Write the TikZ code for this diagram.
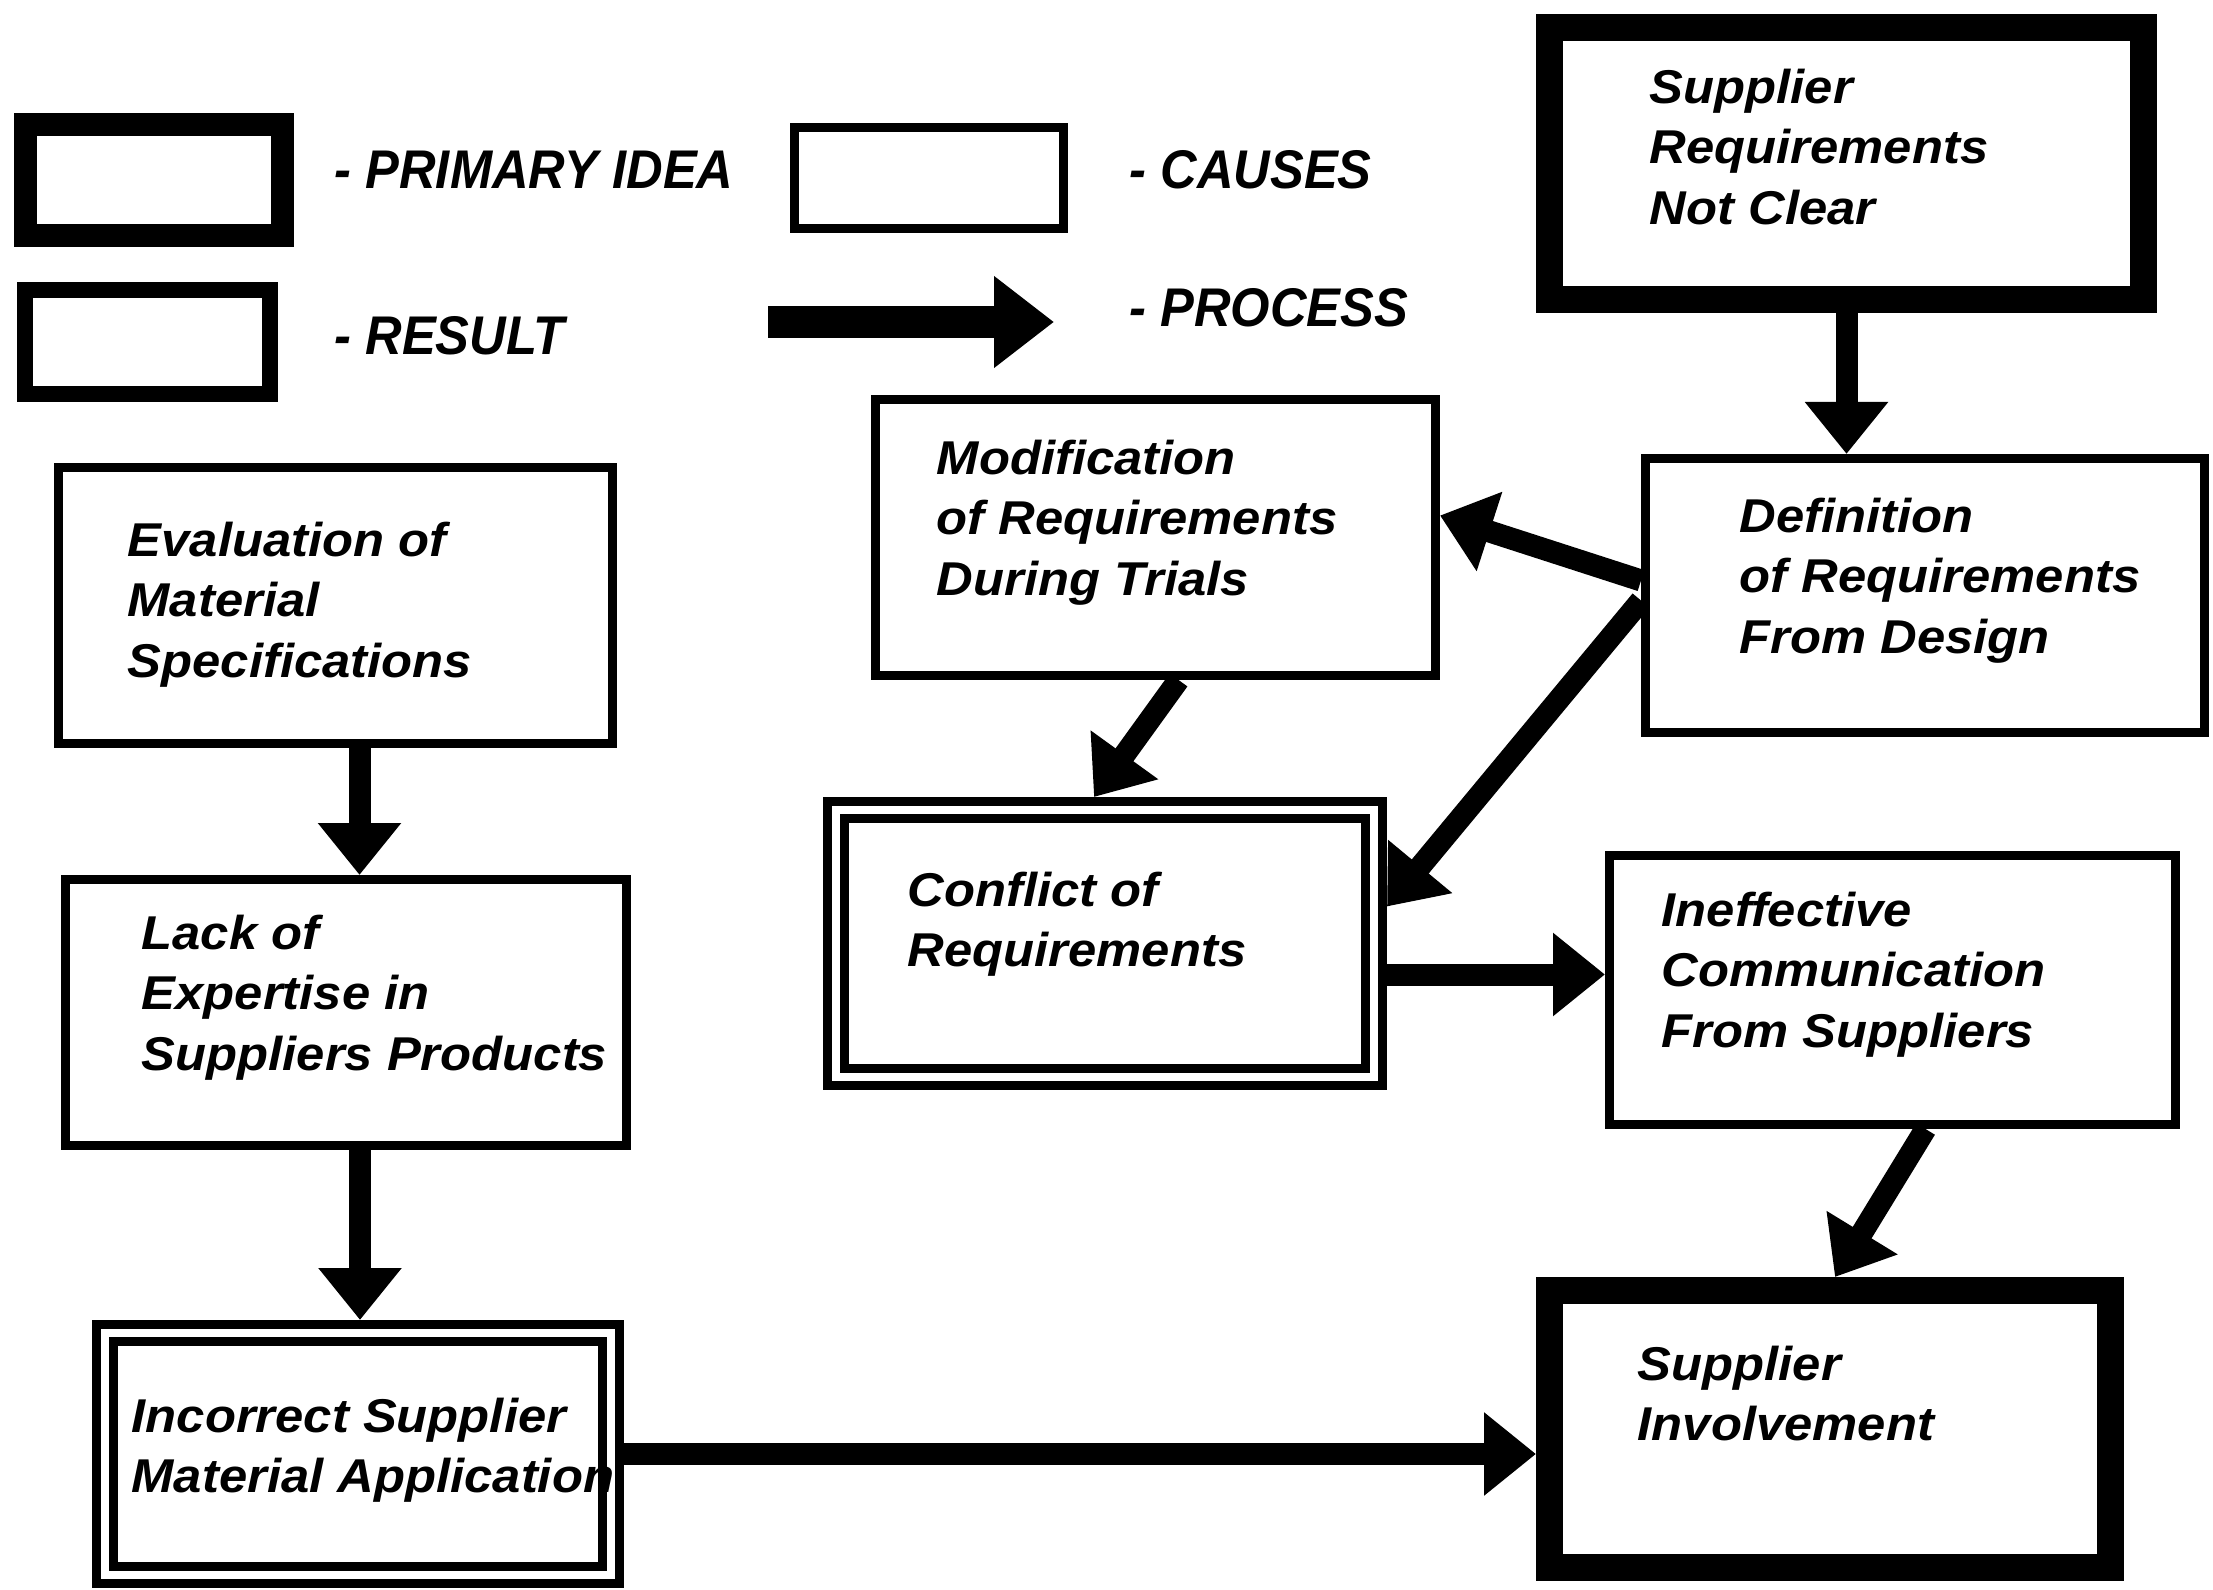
\documentclass[tikz,border=0pt]{standalone}
\usepackage{fontspec}
\setmainfont{Liberation Sans}
\newfontfamily\boxfont{Liberation Sans}[FakeStretch=1.07]
\newfontfamily\keyfont{Liberation Sans}[FakeStretch=0.93]
\usetikzlibrary{arrows.meta,calc}

\tikzset{
  sz/.style 2 args={minimum width=#1, minimum height=#2},
  causebox/.style={draw, rectangle, line width=0.9mm, inner sep=0pt},
  primebox/.style={draw, rectangle, line width=2.7mm, inner sep=0pt},
  resultbox/.style={draw, rectangle, double, line width=0.9mm, double distance=0.8mm,
                    inner sep=0pt, outer sep=1.3mm},
  flow/.style={line width=2.2mm, -{Triangle[width=8mm,length=5.2mm]}},
  keyflow/.style={line width=3.2mm, -{Triangle[width=8.8mm,length=6mm]}},
  boxtext/.style={anchor=north west, inner sep=0pt, align=left,
                  font={\boxfont\bfseries\itshape\fontsize{13.5}{17.3}\selectfont}},
  keytext/.style={anchor=west, inner sep=0pt,
                  font={\keyfont\bfseries\itshape\fontsize{15.5}{18}\selectfont}},
}

\begin{document}
\begin{tikzpicture}[x=0.1mm, y=-0.1mm]
\useasboundingbox (0,0) rectangle (2213,1590);

% ---- key ----
\node[primebox, line width=2.3mm, sz={25.7mm}{11.1mm}] (keyprime) at (154,180) {};
\node[keytext] (keyprimetxt) at (334,170) {- PRIMARY IDEA};
\node[causebox, sz={26.9mm}{10.1mm}] (keycause) at (929,178) {};
\node[keytext] (keycausetxt) at (1129,170) {- CAUSES};
\node[draw, rectangle, line width=1.6mm, inner sep=0pt, sz={24.5mm}{10.4mm}] (keyresult) at (147.5,342) {};
\node[keytext] (keyresulttxt) at (334,336) {- RESULT};
\coordinate (procstart) at (768,322);
\coordinate (procend) at (1054,322);
\draw[keyflow] (procstart) -- (procend);
\node[keytext] (keyproctxt) at (1129,308) {- PROCESS};

% ---- boxes ----
\node[primebox, sz={59.4mm}{27.2mm}] (sreq) at (1846.5,163.5) {};
\node[causebox, sz={55.9mm}{27.4mm}] (def) at (1925,595.5) {};
\node[causebox, sz={56mm}{27.6mm}] (mod) at (1155.5,537.5) {};
\node[causebox, sz={55.4mm}{27.6mm}] (eval) at (335.5,605.5) {};
\node[causebox, sz={56.1mm}{26.6mm}] (lack) at (346,1012.5) {};
\node[causebox, sz={56.6mm}{26.9mm}] (ineff) at (1892.5,990) {};
\node[resultbox, sz={53.8mm}{26.7mm}] (conf) at (1105,943.5) {};
\node[resultbox, sz={50.6mm}{24.2mm}] (inc) at (358,1454) {};
\node[primebox, sz={56.1mm}{27.7mm}] (inv) at (1830,1429) {};

% ---- connectors ----
\draw[flow] (sreq.south) -- (sreq.south |- def.north);
\draw[flow] ($(def.west)+(0,-15)$) -- ($(mod.east)+(0,-22)$);
\draw[flow] ($(def.west)+(0,5)$) -- ($(conf.east)+(0,-37)$);
\draw[flow] ($(mod.south)+(23,0)$) -- ($(conf.north)+(-11,0)$);
\draw[flow] ([xshift=2.4mm]eval.south) -- ([xshift=2.4mm]eval.south |- lack.north);
\draw[flow] ([xshift=1.4mm]lack.south) -- ([xshift=1.4mm]lack.south |- inc.north);
\draw[flow] ([yshift=-3.1mm]conf.east) -- ([yshift=-3.1mm]conf.east -| ineff.west);
\draw[flow] ($(ineff.south)+(33,0)$) -- ($(inv.north)+(5,0)$);
\draw[flow] (inc.east) -- (inc.east -| inv.west);

% ---- box texts ----
\node[boxtext] (sreqtxt) at (1649,68) {Supplier\\Requirements\\Not Clear};
\node[boxtext] (deftxt) at (1739,497) {Definition\\of Requirements\\From Design};
\node[boxtext] (modtxt) at (936,439) {Modification\\of Requirements\\During Trials};
\node[boxtext] (evaltxt) at (127,521) {Evaluation of\\Material\\Specifications};
\node[boxtext] (lacktxt) at (141,914) {Lack of\\Expertise in\\Suppliers Products};
\node[boxtext] (conftxt) at (907,871) {Conflict of\\Requirements};
\node[boxtext] (innefftxt) at (1661,891) {Ineffective\\Communication\\From Suppliers};
\node[boxtext] (inctxt) at (131,1397) {Incorrect Supplier\\Material Application};
\node[boxtext] (invtxt) at (1637,1345) {Supplier\\Involvement};
\end{tikzpicture}
\end{document}
